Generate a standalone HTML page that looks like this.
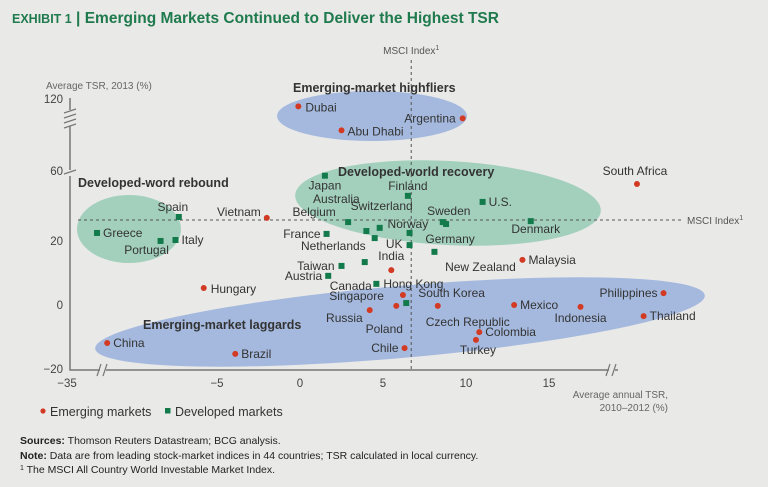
<!DOCTYPE html>
<html><head><meta charset="utf-8"><style>
html,body{margin:0;padding:0;background:#e9e9e8;}
body{width:768px;height:482px;overflow:hidden;font-family:"Liberation Sans",sans-serif;}
svg text{font-family:"Liberation Sans",sans-serif;}
</style></head><body>
<svg id="chart" width="768" height="482" viewBox="0 0 768 482" xmlns="http://www.w3.org/2000/svg">
<rect width="768" height="482" fill="#e9e9e8"/>
<text x="12" y="23" font-size="15.5" font-weight="bold" fill="#1f7a4d"><tspan font-size="12.5">EXHIBIT 1</tspan> | Emerging Markets Continued to Deliver the Highest TSR</text>
<g id="ellipses"></g>
<g id="axes"></g>
<g id="marks"></g>
<g>
<circle cx="43" cy="411" r="2.6" fill="#d23a24"/>
<text x="50" y="416" font-size="12.5" fill="#333">Emerging markets</text>
<rect x="165" y="408" width="5.5" height="5.5" fill="#137a4c"/>
<text x="175" y="416" font-size="12.5" fill="#333">Developed markets</text>
</g>
<g font-size="10.5" fill="#222">
<text x="20" y="444"><tspan font-weight="bold">Sources:</tspan> Thomson Reuters Datastream; BCG analysis.</text>
<text x="20" y="459"><tspan font-weight="bold">Note:</tspan> Data are from leading stock-market indices in 44 countries; TSR calculated in local currency.</text>
<text x="20" y="473"><tspan font-size="7" dy="-3">1</tspan><tspan dy="3"> The MSCI All Country World Investable Market Index.</tspan></text>
</g>
</svg>
<script>
const emNames=["Dubai","Abu Dhabi","Argentina","South Africa","Vietnam","India","Malaysia","Hungary","Singapore","Russia","Poland","Czech Republic","Mexico","Indonesia","Philippines","Thailand","Colombia","Turkey","Chile","China","Brazil"];
const emX=[-0.1,2.5,9.8,20.3,-2.0,5.5,13.4,-5.8,6.2,4.2,5.8,8.3,12.9,16.9,21.9,20.7,10.8,10.6,6.3,-20,-3.9];
const emY=[113,93,103,37.5,26.9,10.6,13.8,5,2.8,-1.9,-0.6,-0.6,-0.3,-0.9,3.4,-3.8,-8.8,-11.2,-13.8,-12.2,-15.6];
const dmNames=["Japan","Finland","U.S.","Spain","Greece","Portugal","Italy","Belgium","Australia","Switzerland","Norway","Sweden","Germany","Denmark","France","Netherlands","UK","New Zealand","Taiwan","Austria","Canada","Hong Kong","South Korea"];
const dmX=[1.5,6.5,11,-7.3,-23.8,-8.4,-7.5,2.9,4.0,4.8,6.6,8.6,8.8,13.9,1.6,4.5,6.6,8.1,2.5,1.7,3.9,4.6,6.4];
const dmY=[41,33.8,31.9,27.2,22.2,19.7,20,25.6,22.8,23.8,22.2,25.6,25,25.9,21.9,20.6,18.4,16.3,11.9,8.8,13.1,6.3,0.3];
const xTicks=[-35,-5,0,5,10,15];
const yTicks=[-20,0,20,60,120];
const msciX=6.7, msciY=26.25;

function sx(v){ if(v<-10) return 67+(v+35)*67/25; return 300+v*16.6; }
function sy(v){ if(v<=40) return 304-3.2*v; if(v<=60) return 176-(v-40)*0.3; return 170-(v-60)*1.2; }

// label offsets [dx,dy,anchor] relative to mark (layout only)
const emLab=[[7,5,"start"],[6,5,"start"],[-7,4,"end"],[-2,-9,"middle"],[-6,-2,"end"],[0,-10,"middle"],[6,4,"start"],[7,5,"start"],[-19,5,"end"],[-7,12,"end"],[-12,27,"middle"],[30,20,"middle"],[6,4,"start"],[0,15,"middle"],[-6,4,"end"],[6,4,"start"],[6,4,"start"],[2,14,"middle"],[-6,4,"end"],[6,4,"start"],[6,4,"start"]];
const dmLab=[[0,14,"middle"],[0,-6,"middle"],[6,4,"start"],[-6,-6,"middle"],[6,4,"start"],[-14,13,"middle"],[6,4,"start"],[-34,-6,"middle"],[-30,-28,"middle"],[2,-18,"middle"],[-22,-5,"start"],[6,-7,"middle"],[4,19,"middle"],[5,12,"middle"],[-6,4,"end"],[-9,12,"end"],[-7,3,"end"],[46,19,"middle"],[-7,4,"end"],[-6,4,"end"],[-14,28,"middle"],[7,4,"start"],[12,-6,"start"]];

const NS="http://www.w3.org/2000/svg";
function mk(tag,attrs,parent){const e=document.createElementNS(NS,tag);for(const k in attrs)e.setAttribute(k,attrs[k]);parent.appendChild(e);return e;}
const ell=document.getElementById('ellipses'),ax=document.getElementById('axes'),mg=document.getElementById('marks');

let e;
e=mk('ellipse',{cx:372,cy:116,rx:95,ry:25,fill:"#a5b9de"},ell);


e=mk('ellipse',{cx:448,cy:203,rx:153,ry:42,fill:"#a3d0bd",transform:"rotate(3 448 203)"},ell);


e=mk('ellipse',{cx:129,cy:229,rx:52,ry:34,fill:"#a3d0bd"},ell);


e=mk('ellipse',{cx:400,cy:322,rx:306,ry:36,fill:"#a5b9de",transform:"rotate(-5 400 322)"},ell);



const groupLabels=[["Emerging-market highfliers",293,92],["Developed-word rebound",78,187],["Developed-world recovery",338,176],["Emerging-market laggards",143,329]];
groupLabels.forEach(g=>{const t=mk('text',{x:g[1],y:g[2],"font-size":12.5,"font-weight":"bold",fill:"#333"},ell);t.textContent=g[0];

});

// axes
const yl=mk('path',{d:"M70 98 V110 M70 126 V170 M70 176 V370 H100 M106 370 H609 M615 370 H618",stroke:"#777","stroke-width":1.5,fill:"none"},ax);


const br=mk('path',{d:"M64 113 L76 109 M64 118 L76 114 M64 123 L76 119 M64 128 L76 124 M64 174 L76 170 M97 376 L101 364 M103 376 L107 364 M606 376 L610 364 M612 376 L616 364",stroke:"#777","stroke-width":1.2,fill:"none"},ax);


xTicks.forEach(v=>{const t=mk('text',{x:sx(v),y:387,"font-size":11.5,fill:"#444","text-anchor":"middle"},ax);t.textContent=v<0?"\u2212"+(-v):v;

});
yTicks.forEach(v=>{const t=mk('text',{x:63,y:sy(v)+5,"font-size":11.5,fill:"#444","text-anchor":"end"},ax);t.textContent=v<0?"\u2212"+(-v):v;

});
let t;
t=mk('text',{x:46,y:89,"font-size":10,fill:"#666"},ax);t.textContent="Average TSR, 2013 (%)";


t=mk('text',{x:668,y:398,"font-size":10,fill:"#666","text-anchor":"end"},ax);t.textContent="Average annual TSR,";


t=mk('text',{x:668,y:411,"font-size":10,fill:"#666","text-anchor":"end"},ax);t.textContent="2010\u20132012 (%)";


// MSCI lines
const mx=sx(msciX),my=sy(msciY);
e=mk('line',{x1:mx,y1:60,x2:mx,y2:370,stroke:"#555","stroke-dasharray":"3 3","stroke-width":1},ax);


e=mk('line',{x1:78,y1:my,x2:683,y2:my,stroke:"#555","stroke-dasharray":"3 3","stroke-width":1},ax);


t=mk('text',{x:mx,y:54,"font-size":10,fill:"#555","text-anchor":"middle"},ax);t.innerHTML='MSCI Index<tspan font-size="7" dy="-4">1</tspan>';


t=mk('text',{x:687,y:my+4,"font-size":10,fill:"#555"},ax);t.innerHTML='MSCI Index<tspan font-size="7" dy="-4">1</tspan>';



emNames.forEach((n,i)=>{const x=sx(emX[i]),y=sy(emY[i]);
const c=mk('circle',{cx:x,cy:y,r:3,fill:"#d23a24"},mg);


const l=emLab[i];const tx=mk('text',{x:x+l[0],y:y+l[1],"font-size":12,fill:"#333","text-anchor":l[2]},mg);tx.textContent=n;

});
dmNames.forEach((n,i)=>{const x=sx(dmX[i]),y=sy(dmY[i]);
const r=mk('rect',{x:x-3,y:y-3,width:6,height:6,fill:"#137a4c"},mg);


const l=dmLab[i];const tx=mk('text',{x:x+l[0],y:y+l[1],"font-size":12,fill:"#333","text-anchor":l[2]},mg);tx.textContent=n;

});
</script>
</body></html>
